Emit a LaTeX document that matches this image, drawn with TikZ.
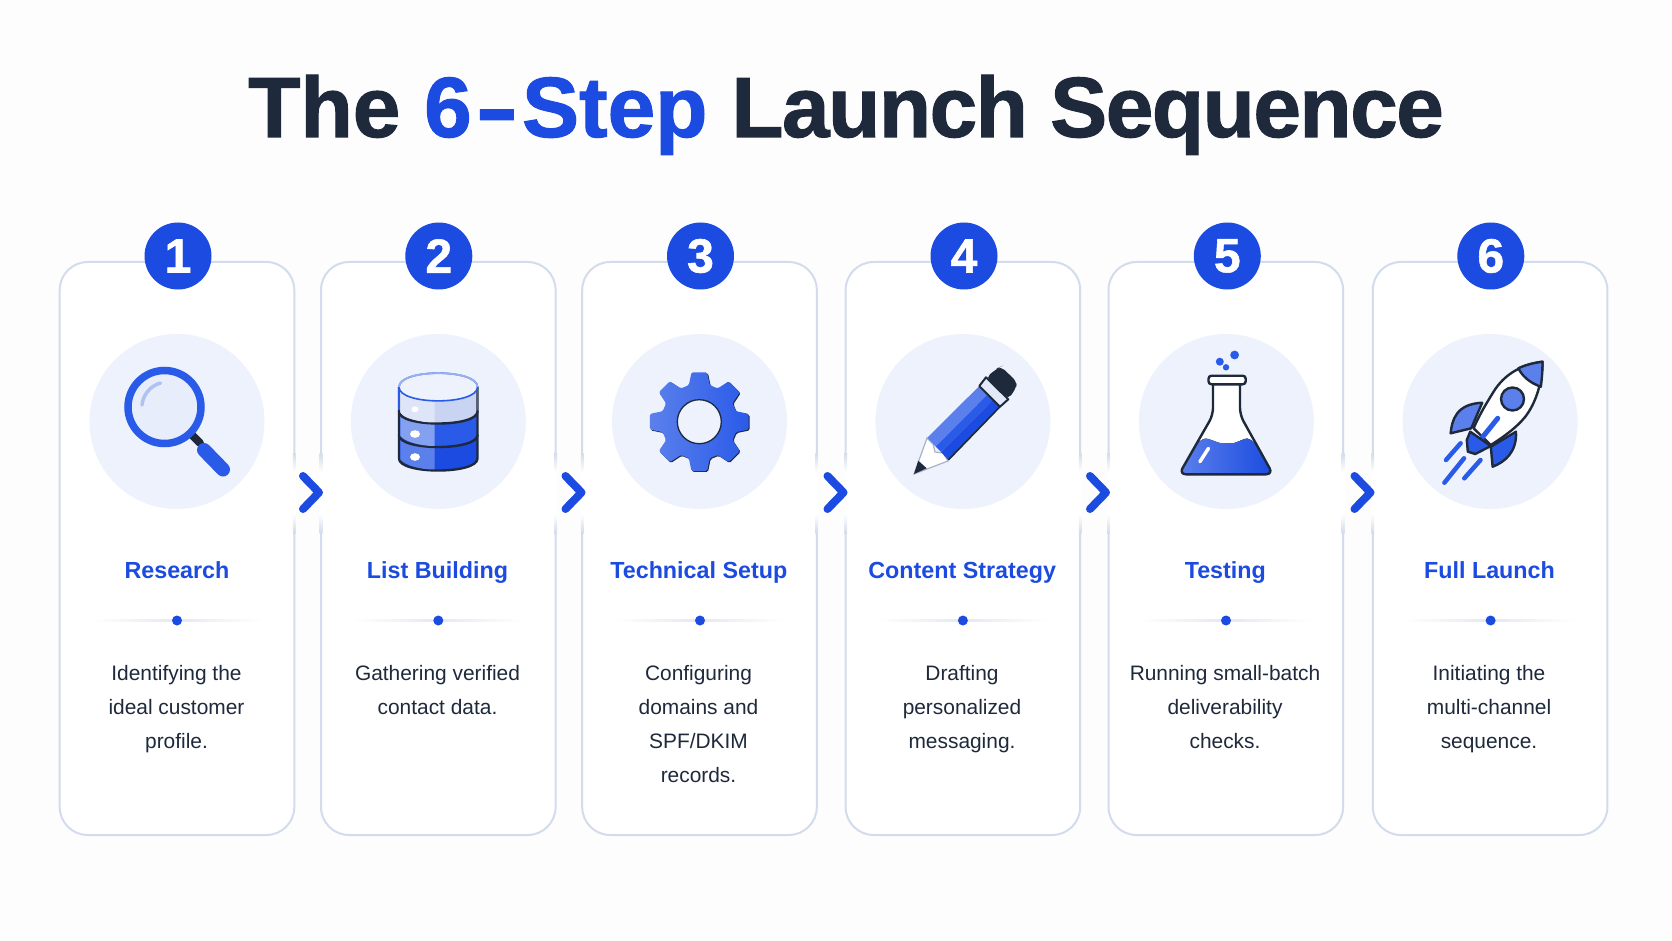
\documentclass[tikz,border=0pt]{standalone}
\usepackage{xcolor}
\usepackage{graphicx}
\usepackage{fontspec}
\setmainfont{Liberation Sans}
\newfontfamily\heavyfont[FakeBold=1.2]{Liberation Sans Bold}
\usetikzlibrary{positioning}

\definecolor{pagebg}{HTML}{FDFDFE}
\definecolor{inkdark}{HTML}{1E293B}
\definecolor{brand}{HTML}{1B4BE0}
\definecolor{brandmid}{HTML}{2A5AE8}
\definecolor{brandsoft}{HTML}{5B80EC}
\definecolor{brandpale}{HTML}{C9D4F3}
\definecolor{discbg}{HTML}{EEF2FC}
\definecolor{cardline}{HTML}{D3DCEC}
\definecolor{rulegray}{HTML}{E4E8F0}

\pgfdeclareverticalshading{gapstrip}{100bp}{color(0bp)=(cardline); color(25bp)=(cardline); color(37bp)=(white); color(63bp)=(white); color(75bp)=(cardline); color(100bp)=(cardline)}

\begin{document}
\begin{tikzpicture}[
    x=1pt, y=-1pt,
    card/.style={draw=cardline, line width=2pt, fill=white, rectangle, minimum width=234.6pt, minimum height=573pt, rounded corners=28pt, inner sep=0pt},
    gap/.style={rectangle, shading=gapstrip, minimum width=2.8pt, minimum height=80pt, inner sep=0pt, outer sep=0pt},
    badge/.style={circle, fill=brand, minimum size=67pt, inner sep=0pt, text=white, font=\fontsize{48}{48}\heavyfont},
    disc/.style={circle, fill=discbg, minimum size=175pt, inner sep=0pt},
    chev/.style={draw=brand, line width=8pt, line cap=round, line join=round},
    steptitle/.style={anchor=base, text=brand, inner sep=0pt, font=\fontsize{23.3}{28}\selectfont\bfseries},
    stepbody/.style={anchor=north, align=center, text=inkdark, inner sep=0pt, font=\fontsize{20.9}{34}\selectfont},
    rulebar/.style={rectangle, minimum width=172pt, minimum height=1.6pt, inner sep=0pt, left color=white, right color=white, middle color=rulegray},
    dot/.style={circle, fill=brand, minimum size=10pt, inner sep=0pt},
    edge/.style={draw=inkdark, line width=2.4pt, line join=round, line cap=round},
]

% Page
\fill[pagebg] (0,0) rectangle (1672,941);
\useasboundingbox (0,0) rectangle (1672,941);

% Title
\node[anchor=base, inner sep=0pt, text=inkdark, font=\fontsize{85.6}{90}\heavyfont] (main_title) at (846,137) {The \textcolor{brand}{6\kern3.75pt\scalebox{1.5}[1]{-}\kern3.75pt Step} {\addfontfeature{LetterSpace=-1.8}Launch Sequence}};

% === CARDS ===
\node[card] (res_card) at (177,548.5) {};
\node[card] (list_card) at (438.3,548.5) {};
\node[card] (tech_card) at (699.5,548.5) {};
\node[card] (cont_card) at (962.9,548.5) {};
\node[card] (test_card) at (1225.8,548.5) {};
\node[card] (full_card) at (1490.1,548.5) {};

% Fade the card edges beside each chevron
\node[gap, xshift=-1pt] (gap_a1) at (res_card.east |- 0,493) {};
\node[gap, xshift=1pt] (gap_a2) at (list_card.west |- 0,493) {};
\node[gap, xshift=-1pt] (gap_b1) at (list_card.east |- 0,493) {};
\node[gap, xshift=1pt] (gap_b2) at (tech_card.west |- 0,493) {};
\node[gap, xshift=-1pt] (gap_c1) at (tech_card.east |- 0,493) {};
\node[gap, xshift=1pt] (gap_c2) at (cont_card.west |- 0,493) {};
\node[gap, xshift=-1pt] (gap_d1) at (cont_card.east |- 0,493) {};
\node[gap, xshift=1pt] (gap_d2) at (test_card.west |- 0,493) {};
\node[gap, xshift=-1pt] (gap_e1) at (test_card.east |- 0,493) {};
\node[gap, xshift=1pt] (gap_e2) at (full_card.west |- 0,493) {};

% Chevrons
\draw[chev] (303,476) -- ++(16,16.5) -- ++(-16,16.5);
\draw[chev] (565.5,476) -- ++(16,16.5) -- ++(-16,16.5);
\draw[chev] (827.5,476) -- ++(16,16.5) -- ++(-16,16.5);
\draw[chev] (1090,476) -- ++(16,16.5) -- ++(-16,16.5);
\draw[chev] (1354.5,476) -- ++(16,16.5) -- ++(-16,16.5);

% === RESEARCH ===
\node[badge] (res_num) at (178,256) {1};
\node[disc] (res_disc) at (177,421.5) {};
\node[steptitle] (res_title) at (177,578.3) {Research};
\node[rulebar] (res_rule) at (177,620.5) {};
\node[dot] (res_dot) at (177,620.5) {};
\node[stepbody] (res_text) at (176.5,664.8) {Identifying the\\ideal customer\\profile.};

% Magnifier
\draw[line width=8pt, line cap=round, draw=inkdark] (192,435) -- (200,443);
\draw[line width=14pt, line cap=round, draw=brandmid] (204,450) -- (223,469.5);
\draw[line width=7.5pt, draw=brandmid, fill=discbg!85!brandpale] (164.5,407) circle (36.5pt);
\draw[line width=3.5pt, line cap=round, draw=brandpale!85!brandmid] (142,405) .. controls (143,395) and (150,386) .. (160.5,383);

% === LIST BUILDING ===
\node[badge] (list_num) at (438.8,256) {2};
\node[disc] (list_disc) at (438.3,421.5) {};
\node[steptitle] (list_title) at (437.5,578.3) {List Building};
\node[rulebar] (list_rule) at (438.3,620.5) {};
\node[dot] (list_dot) at (438.3,620.5) {};
\node[stepbody] (list_text) at (437.5,664.8) {Gathering verified\\contact data.};

% Database, bottom layer first
\filldraw[edge, fill=brand] (399,435) -- (399,458.5) .. controls (399,474.5) and (477.5,474.5) .. (477.5,458.5) -- (477.5,435) -- cycle;
\fill[brandsoft] (400.3,435) -- (400.3,459.5) .. controls (406,465.5) and (420,469.5) .. (434.6,469.5) -- (434.6,440) -- cycle;
\fill[white] (415,457) ellipse (5 and 3.8);
\filldraw[edge, fill=brandmid] (399,411.5) -- (399,435) .. controls (399,451) and (477.5,451) .. (477.5,435) -- (477.5,411.5) -- cycle;
\fill[brandsoft!75!white] (400.3,411.5) -- (400.3,436) .. controls (406,442) and (420,446) .. (434.6,446) -- (434.6,416) -- cycle;
\fill[white] (415,434) ellipse (5 and 3.8);
\filldraw[edge, fill=brandpale] (399,387) -- (399,411.5) .. controls (399,427.5) and (477.5,427.5) .. (477.5,411.5) -- (477.5,387) -- cycle;
\fill[brandpale!60!white] (400.3,387) -- (400.3,412.5) .. controls (406,418.5) and (420,422.5) .. (434.6,422.5) -- (434.6,395) -- cycle;
\fill[white] (415,409.3) ellipse (3.5 and 3);
\draw[brandmid, line width=1.6pt] (399,387) -- (399,410);
\draw[brandmid, line width=1.6pt] (477.5,387) -- (477.5,410);
\filldraw[draw=brandmid, line width=1.6pt, fill=discbg] (399,387) .. controls (399,368.5) and (477.5,368.5) .. (477.5,387) .. controls (477.5,405.5) and (399,405.5) .. (399,387) -- cycle;
\draw[brandpale!70!brandmid, line width=1.8pt] (399,387) .. controls (399,368.5) and (477.5,368.5) .. (477.5,387);

% === TECHNICAL SETUP ===
\node[badge] (tech_num) at (700.5,256) {3};
\node[disc] (tech_disc) at (699.5,421.5) {};
\node[steptitle] (tech_title) at (698.8,578.3) {Technical Setup};
\node[rulebar] (tech_rule) at (699.5,620.5) {};
\node[dot] (tech_dot) at (700,620.5) {};
\node[stepbody] (tech_text) at (698.5,664.8) {Configuring\\domains and\\SPF/DKIM\\records.};

% Gear
\begin{scope}[shift={(699.3,421.7)}]
\path[even odd rule, rounded corners=1.5pt, left color=brandsoft, right color=brandmid,
      preaction={fill=inkdark, even odd rule, transform canvas={shift={(0.9pt,-0.9pt)}}}]
    (-16:38) -- (-9:50) -- (9:50) -- (16:38)
    -- (29:38) -- (36:50) -- (54:50) -- (61:38)
    -- (74:38) -- (81:50) -- (99:50) -- (106:38)
    -- (119:38) -- (126:50) -- (144:50) -- (151:38)
    -- (164:38) -- (171:50) -- (189:50) -- (196:38)
    -- (209:38) -- (216:50) -- (234:50) -- (241:38)
    -- (254:38) -- (261:50) -- (279:50) -- (286:38)
    -- (299:38) -- (306:50) -- (324:50) -- (331:38) -- cycle
    (0,0) circle (22pt);
\draw[inkdark, line width=1.3pt, fill=discbg] (0,0) circle (22pt);
\end{scope}

% === CONTENT STRATEGY ===
\node[badge] (cont_num) at (964,256) {4};
\node[disc] (cont_disc) at (962.9,421.5) {};
\node[steptitle] (cont_title) at (962.2,578.3) {Content Strategy};
\node[rulebar] (cont_rule) at (962.9,620.5) {};
\node[dot] (cont_dot) at (962.9,620.5) {};
\node[stepbody] (cont_text) at (962,664.8) {Drafting\\personalized\\messaging.};

% Pencil
\filldraw[draw=brandpale!60!gray, line width=1.2pt, fill=white] (927,438) -- (914,474) -- (948,461) -- (943,453) -- (935,452) -- (933,444) -- cycle;
\fill[inkdark] (914,474) -- (918.3,460.7) -- (926.7,468.3) -- cycle;
\fill[brandsoft] (927.3,437.7) -- (979.3,386) -- (987.6,394.3) -- (935.7,446.6) -- cycle;
\fill[brandmid] (935.7,446.6) -- (987.6,394.3) -- (993,399.7) -- (941,452) -- cycle;
\fill[brand] (941,452) -- (993,399.7) -- (1000,406.7) -- (948.3,460) -- cycle;
\draw[inkdark, line width=1.6pt] (948.3,460) -- (1000,406.7);
\filldraw[inkdark, fill=discbg!70!brandpale, line width=2pt, line join=round] (979.3,386) -- (986,377.3) -- (1008.3,399.3) -- (1000,406.7) -- cycle;
\fill[inkdark, rounded corners=5pt] (986,377.3) -- (998.3,367.7) -- (1001,366.5) -- (1017,382) -- (1016,388) -- (1008.3,399.3) -- cycle;

% === TESTING ===
\node[badge] (test_num) at (1227.3,256) {5};
\node[disc] (test_disc) at (1226.3,421.5) {};
\node[steptitle] (test_title) at (1225.3,578.3) {Testing};
\node[rulebar] (test_rule) at (1226,620.5) {};
\node[dot] (test_dot) at (1226,620.5) {};
\node[stepbody] (test_text) at (1225,664.8) {Running small-batch\\deliverability\\checks.};

% Flask
\fill[white, rounded corners=7pt] (1213,384) -- (1213,415) -- (1179,474.3) -- (1273,474.3) -- (1240,415) -- (1240,384) -- cycle;
\fill[left color=brandsoft, right color=brand, rounded corners=7pt] (1198.5,440) .. controls (1208,438) and (1218,443) .. (1227,443) .. controls (1236,443) and (1245,438) .. (1254,440) -- (1273,474.3) -- (1179,474.3) -- cycle;
\draw[edge, rounded corners=7pt] (1213,384) -- (1213,415) -- (1179,474.3) -- (1273,474.3) -- (1240,415) -- (1240,384);
\filldraw[edge, fill=white, rounded corners=3pt] (1208.5,375.7) rectangle (1245.7,384.3);
\draw[line width=3.5pt, line cap=round, draw=white] (1199.9,461.7) -- (1208.5,448.3);
\fill[brandmid] (1219.8,361.7) circle (4pt);
\fill[brandmid] (1226,367.3) circle (3.2pt);
\fill[brandmid] (1234.6,355) circle (4.4pt);

% === FULL LAUNCH ===
\node[badge] (full_num) at (1490.8,256) {6};
\node[disc] (full_disc) at (1490.1,421.5) {};
\node[steptitle] (full_title) at (1489.5,578.3) {Full Launch};
\node[rulebar] (full_rule) at (1490.1,620.5) {};
\node[dot] (full_dot) at (1490.6,620.5) {};
\node[stepbody] (full_text) at (1489,664.8) {Initiating the\\multi-channel\\sequence.};

% Rocket
\filldraw[edge, fill=brandsoft] (1450.6,433.3) .. controls (1452,420) and (1456,404) .. (1482.2,402.7) -- (1471.2,428.3) -- cycle;
\filldraw[edge, fill=brandmid] (1492.6,466.7) -- (1490.8,446.7) -- (1516,431.7) .. controls (1517,452) and (1505,462) .. (1492.6,466.7) -- cycle;
\filldraw[edge, fill=white] (1542.5,361.7) .. controls (1525,364) and (1505,372) .. (1492.6,393.3) .. controls (1484,407) and (1478,418) .. (1473.6,428.3) -- (1490.8,445) .. controls (1505,436) and (1517,427) .. (1525.3,416.7) .. controls (1535,404) and (1542,385) .. (1542.5,361.7) -- cycle;
\filldraw[edge, fill=brandsoft] (1542.5,361.7) .. controls (1533,363) and (1525,365) .. (1518.4,368.3) .. controls (1522,376) and (1530,383) .. (1540.8,386.7) .. controls (1542,378) and (1542.5,370) .. (1542.5,361.7) -- cycle;
\filldraw[edge, fill=brandsoft] (1512.5,399) circle (11.5pt);
\draw[line width=5pt, line cap=round, draw=brandmid] (1497.7,418.3) -- (1481,439);
\filldraw[edge, fill=brandmid] (1470.2,431.7) -- (1490.8,446) -- (1475.3,454) -- (1467.8,451.7) -- (1466.8,440) -- cycle;
\draw[line width=4.5pt, line cap=round, draw=brandmid] (1446,460) -- (1460.6,443.3);
\draw[line width=4.5pt, line cap=round, draw=brandmid] (1444.4,482.7) -- (1464,458.3);
\draw[line width=4.5pt, line cap=round, draw=brandmid] (1464.3,478.3) -- (1480.5,460);

\end{tikzpicture}
\end{document}
